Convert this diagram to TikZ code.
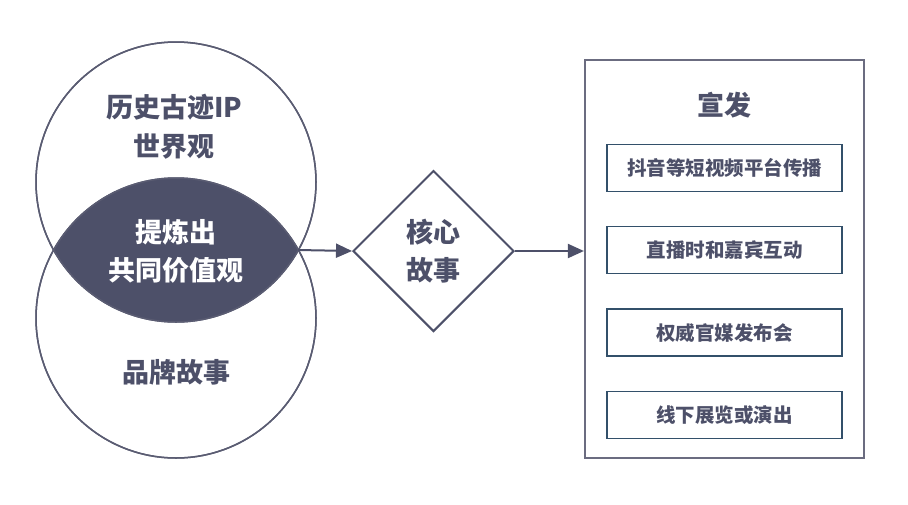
\documentclass[tikz,border=0pt]{standalone}
\usepackage{fontspec}
\setmainfont{Noto Sans CJK SC}[BoldFont={Noto Sans CJK SC Black}]
\newfontfamily\midfont{Noto Sans CJK SC}
\usepackage{xcolor}
\usetikzlibrary{arrows.meta,shapes,positioning,calc}

\definecolor{slate}{HTML}{4D5069}
\definecolor{rimgray}{HTML}{5A5C72}
\definecolor{boxblue}{HTML}{33506A}
\definecolor{framegray}{HTML}{6B6C80}

\begin{document}
\begin{tikzpicture}[
    x=1pt, y=-1pt,
    >={Triangle[length=16pt,width=14pt]},
    node distance=34pt,
    ring/.style={draw=rimgray, line width=1.5pt, circle, minimum size=280pt,
        inner sep=0pt},
    biglbl/.style={text=slate, align=center, font=\fontsize{27}{39}\selectfont\bfseries},
    lenslbl/.style={text=white, align=center, font=\fontsize{27}{38}\selectfont\bfseries},
    core/.style={draw=slate, line width=2pt, diamond, minimum size=161pt,
        inner sep=0pt, align=center, text=slate,
        font=\fontsize{27}{38}\selectfont\bfseries},
    channel/.style={draw=boxblue, line width=1.3pt, rectangle,
        minimum width=235pt, minimum height=47pt,
        text=slate, font=\fontsize{19.5}{21}\selectfont\midfont\bfseries},
    flow/.style={->, line width=2pt, draw=slate, fill=slate}
]
\useasboundingbox (0,0) rectangle (908,504);

% two overlapping circles
\node[ring] (Top) at (176,182) {};
\node[ring] (Bot) at (176,318) {};
\begin{scope}
    \clip (Top.center) circle[radius=140];
    \fill[slate] (Bot.center) circle[radius=140];
\end{scope}
\draw[rimgray, line width=1.5pt] (Top.center) circle[radius=140];
\draw[rimgray, line width=1.5pt] (Bot.center) circle[radius=140];
\coordinate (Tip) at (298,250);

\node[biglbl] (World) at (174,127) {历史古迹IP\\世界观};
\node[lenslbl] (Value) at (176,251) {提炼出\\共同价值观};
\node[biglbl] (Brand) at (176,372) {品牌故事};

% core story
\node[core] (Core) at (433.5,251) {核心\\故事};

% promotion frame
\node[draw=framegray, line width=2.2pt, minimum width=279pt, minimum height=398pt]
    (Frame) at (724.5,259) {};
\node[text=slate, font=\fontsize{27}{28}\selectfont\bfseries] (Title) at (724.5,105) {宣发};
\node[channel] (C1) at (724.5,168) {抖音等短视频平台传播};
\node[channel, below=of C1] (C2) {直播时和嘉宾互动};
\node[channel, below=of C2] (C3) {权威官媒发布会};
\node[channel, below=of C3] (C4) {线下展览或演出};

\draw[flow] (Tip) -- (Core.west);
\draw[flow] (Core.east) -- (Frame.west |- Core.east);

\end{tikzpicture}
\end{document}
